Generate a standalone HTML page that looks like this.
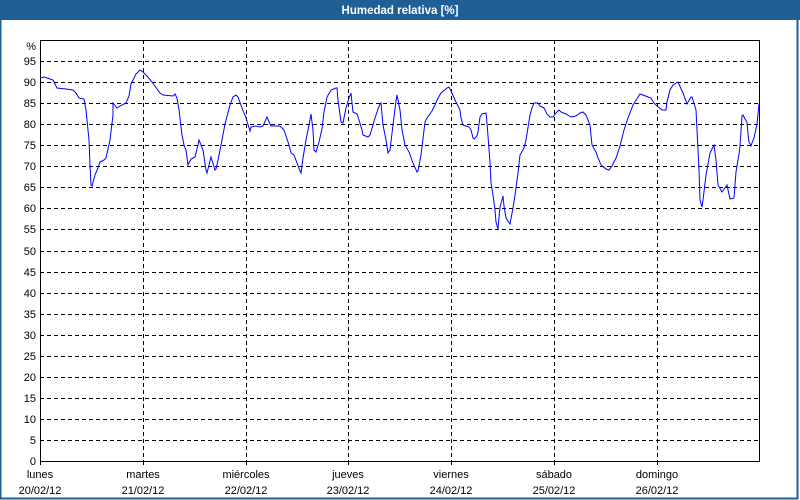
<!DOCTYPE html>
<html><head><style>
html,body{margin:0;padding:0;background:#fff;}
svg{display:block;}
</style></head><body>
<svg width="800" height="500" xmlns="http://www.w3.org/2000/svg" font-family="Liberation Sans, sans-serif" font-size="11">
<rect x="0" y="0" width="800" height="500" fill="#fff"/>
<rect x="0.5" y="0.5" width="797" height="498" fill="none" stroke="#1f5f96" stroke-width="2"/>
<rect x="0" y="0" width="800" height="20" fill="#1f5f96"/>
<text x="400" y="14" fill="#fff" font-weight="bold" font-size="11.5" text-anchor="middle">Humedad relativa [%]</text>
<g stroke="#000" stroke-dasharray="4,3" stroke-width="1">
<line x1="40" x2="760" y1="440.5" y2="440.5"/><line x1="40" x2="760" y1="419.5" y2="419.5"/><line x1="40" x2="760" y1="398.5" y2="398.5"/><line x1="40" x2="760" y1="377.5" y2="377.5"/><line x1="40" x2="760" y1="356.5" y2="356.5"/><line x1="40" x2="760" y1="335.5" y2="335.5"/><line x1="40" x2="760" y1="314.5" y2="314.5"/><line x1="40" x2="760" y1="293.5" y2="293.5"/><line x1="40" x2="760" y1="272.5" y2="272.5"/><line x1="40" x2="760" y1="251.5" y2="251.5"/><line x1="40" x2="760" y1="229.5" y2="229.5"/><line x1="40" x2="760" y1="208.5" y2="208.5"/><line x1="40" x2="760" y1="187.5" y2="187.5"/><line x1="40" x2="760" y1="166.5" y2="166.5"/><line x1="40" x2="760" y1="145.5" y2="145.5"/><line x1="40" x2="760" y1="124.5" y2="124.5"/><line x1="40" x2="760" y1="103.5" y2="103.5"/><line x1="40" x2="760" y1="82.5" y2="82.5"/><line x1="40" x2="760" y1="61.5" y2="61.5"/>
<line x1="143.5" x2="143.5" y1="40" y2="461"/><line x1="246.5" x2="246.5" y1="40" y2="461"/><line x1="348.5" x2="348.5" y1="40" y2="461"/><line x1="451.5" x2="451.5" y1="40" y2="461"/><line x1="554.5" x2="554.5" y1="40" y2="461"/><line x1="657.5" x2="657.5" y1="40" y2="461"/>
</g>
<rect x="40.5" y="40.5" width="719" height="421" fill="none" stroke="#000" stroke-width="1"/>
<g stroke="#000"><line x1="143.5" x2="143.5" y1="461" y2="465"/><line x1="246.5" x2="246.5" y1="461" y2="465"/><line x1="348.5" x2="348.5" y1="461" y2="465"/><line x1="451.5" x2="451.5" y1="461" y2="465"/><line x1="554.5" x2="554.5" y1="461" y2="465"/><line x1="657.5" x2="657.5" y1="461" y2="465"/><line x1="40.5" x2="40.5" y1="461" y2="465"/></g>
<g text-anchor="end" fill="#000">
<text x="36" y="50">%</text>
<text x="36" y="65">95</text><text x="36" y="86">90</text><text x="36" y="107">85</text><text x="36" y="128">80</text><text x="36" y="149">75</text><text x="36" y="170">70</text><text x="36" y="191">65</text><text x="36" y="212">60</text><text x="36" y="233">55</text><text x="36" y="255">50</text><text x="36" y="276">45</text><text x="36" y="297">40</text><text x="36" y="318">35</text><text x="36" y="339">30</text><text x="36" y="360">25</text><text x="36" y="381">20</text><text x="36" y="402">15</text><text x="36" y="423">10</text><text x="36" y="444">5</text><text x="36" y="465">0</text>
</g>
<g text-anchor="middle" fill="#000">
<text x="40" y="478">lunes</text><text x="40" y="494">20/02/12</text>
<text x="143" y="478">martes</text><text x="143" y="494">21/02/12</text>
<text x="246" y="478">miércoles</text><text x="246" y="494">22/02/12</text>
<text x="348" y="478">jueves</text><text x="348" y="494">23/02/12</text>
<text x="451" y="478">viernes</text><text x="451" y="494">24/02/12</text>
<text x="554" y="478">sábado</text><text x="554" y="494">25/02/12</text>
<text x="657" y="478">domingo</text><text x="657" y="494">26/02/12</text>
</g>
<polyline fill="none" stroke="#0000ff" stroke-width="1" points="40,78 44,77 50,79 53,80 57,88 66,89 73,90 76,93 79,98 84,99 86,110 89,140 90,165 91,185 92,186 95,175 98,168 100,162 104,160 106,158 110,140 113,115 113,103 117,108 120,106 126,103 129,96 131,84 136,74 140,70 143,72 147,76 152,82 160,93 163,95 173,96 175,94 177,98 179,110 182,135 184,145 186,150 188,165 191,159 195,157 198,145 199,140 203,150 206,170 207,173 210,161 211,157 215,170 216,169 218,160 222,140 225,124 230,105 233,97 236,95 238,97 242,108 246,118 250,131 251,127 255,126 260,127 263,126 267,117 270,124 271,126 280,126 284,130 289,145 291,153 294,155 297,163 300,171 301,173 303,158 306,140 309,125 311,114 313,130 314,150 316,152 319,142 322,129 324,112 327,97 331,90 336,88 337,88 338,100 341,122 343,123 346,108 349,98 351,93 352,103 353,112 357,114 359,120 362,130 363,135 368,137 370,135 373,125 375,118 378,109 380,104 381,103 383,125 386,140 388,153 390,150 393,125 396,101 397,95 400,110 402,130 405,145 409,152 413,163 417,172 418,171 421,155 425,122 427,118 432,111 435,105 437,100 441,93 447,88 449,87 452,93 455,100 459,108 460,110 461,118 463,125 466,126 469,127 471,130 473,138 474,139 477,136 478,132 480,117 482,114 486,113 487,123 490,162 491,183 493,195 495,210 496,222 498,229 500,207 503,196 504,206 506,218 510,224 513,208 515,195 518,173 520,155 524,148 526,140 530,115 532,108 534,103 538,103 540,106 544,108 547,114 550,117 553,117 556,113 559,110 561,112 566,114 571,117 576,116 580,113 583,112 586,115 590,125 592,145 596,152 598,158 601,165 606,169 609,170 612,166 616,158 620,146 624,130 628,118 633,105 640,94 643,95 648,97 651,98 654,103 657,106 662,110 666,110 667,102 670,90 673,85 678,82 683,93 687,104 691,97 692,97 696,110 698,150 699,170 700,200 702,207 703,200 706,175 710,153 714,145 716,160 718,185 722,192 727,185 730,199 734,198 736,172 739,154 740,146 742,116 743,115 745,119 747,122 748,134 749,142 751,146 752,143 754,138 757,124 759,104 760,104"/>
</svg>
</body></html>
